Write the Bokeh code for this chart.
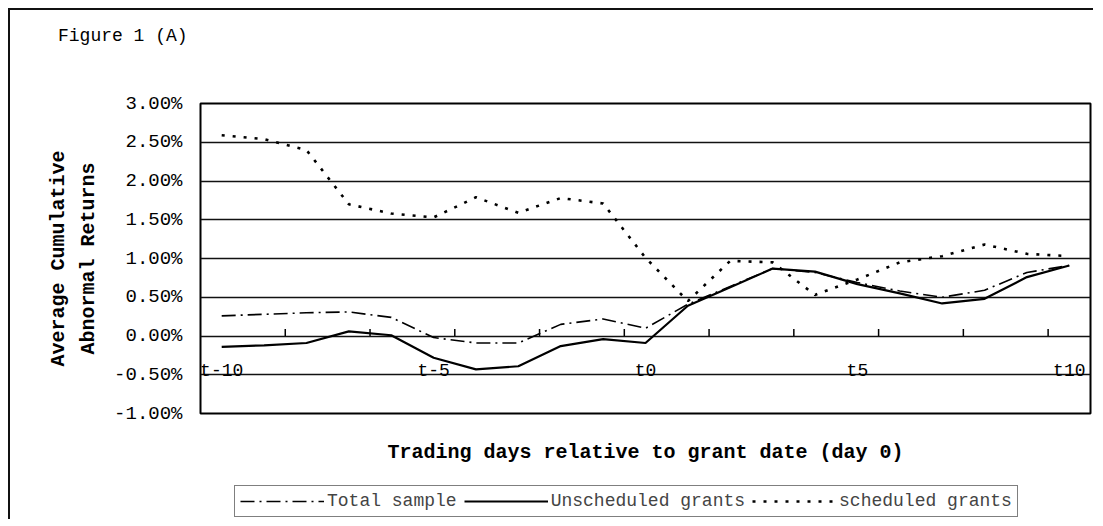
from bokeh.plotting import figure
from bokeh.layouts import column
from bokeh.models import (Range1d, FixedTicker, PrintfTickFormatter, Title, Div,
                          LinearAxis, Legend, LegendItem)
from bokeh.core.properties import value
from bokeh.embed import file_html
from bokeh.resources import INLINE

# ---------------- data ----------------
days = list(range(-10, 11))
total_sample = [0.26, 0.28, 0.30, 0.31, 0.24, -0.02, -0.09, -0.09, 0.15, 0.22, 0.10,
                0.41, 0.64, 0.87, 0.82, 0.69, 0.58, 0.50, 0.59, 0.82, 0.91]
unscheduled = [-0.14, -0.12, -0.09, 0.06, 0.01, -0.28, -0.43, -0.39, -0.13, -0.04, -0.09,
               0.39, 0.63, 0.87, 0.83, 0.67, 0.55, 0.42, 0.48, 0.76, 0.91]
scheduled = [2.59, 2.54, 2.40, 1.70, 1.58, 1.53, 1.79, 1.59, 1.78, 1.71, 1.01,
             0.45, 0.97, 0.95, 0.53, 0.73, 0.95, 1.03, 1.18, 1.06, 1.03]
x_label_days = [-10, -5, 0, 5, 10]
x_label_text = ["t-10", "t-5", "t0", "t5", "t10"]
y_ticks = [-1.0, -0.5, 0.0, 0.5, 1.0, 1.5, 2.0, 2.5, 3.0]
series_names = ["Total sample", "Unscheduled grants", "scheduled grants"]
series_values = [total_sample, unscheduled, scheduled]

MONO = "Liberation Mono"
STYLES = [dict(line_color="black", line_width=1.6, line_dash="14 5 2 5"),
          dict(line_color="black", line_width=2.2),
          dict(line_color="black", line_width=2.6, line_dash="3 8")]

# ---------------- heading ----------------
head = Div(text='<div style="padding:16px 0 0 48px">Figure 1 (A)</div>',
           width=1083, height=43, margin=0,
           styles={"font-family": "'Liberation Mono', monospace", "font-size": "18px",
                   "color": "black", "line-height": "normal"})

# ---------------- main chart ----------------
p = figure(width=1083, height=424, output_backend="svg", toolbar_location=None,
           x_range=Range1d(days[0] - 0.5, days[-1] + 0.5),
           y_range=Range1d(y_ticks[0], y_ticks[-1]),
           x_axis_type=None,
           min_border_left=190, min_border_right=3, min_border_top=50, min_border_bottom=64)
p.title.text = ""
p.background_fill_color = "white"
p.border_fill_color = "white"
p.outline_line_color = "black"
p.outline_line_width = 2

# y axis
p.yaxis.ticker = FixedTicker(ticks=y_ticks)
p.yaxis.formatter = PrintfTickFormatter(format="%.2f%%")
p.yaxis.major_label_text_font = MONO
p.yaxis.major_label_text_font_size = "19px"
p.yaxis.major_label_text_color = "black"
p.yaxis.axis_line_color = None
p.yaxis.major_tick_line_color = None
p.yaxis.minor_tick_line_color = None
p.yaxis.major_tick_out = 0
p.yaxis.major_tick_in = 0
p.yaxis.major_label_standoff = 18
p.yaxis.axis_label = "Abnormal Returns"
p.yaxis.axis_label_text_font = MONO
p.yaxis.axis_label_text_font_size = "20px"
p.yaxis.axis_label_text_font_style = "bold"
p.yaxis.axis_label_text_color = "black"
p.yaxis.axis_label_standoff = 11

p.add_layout(Title(text="Average Cumulative", align="center", standoff=10,
                   text_font=MONO, text_font_size="20px", text_font_style="bold",
                   text_color="black"), "left")

# x axis (title only; category labels are drawn inside the plot)
xaxis = LinearAxis(ticker=FixedTicker(ticks=[]), axis_line_color=None,
                   major_tick_line_color=None, minor_tick_line_color=None,
                   major_tick_out=0, major_tick_in=0, major_label_standoff=0,
                   axis_label="Trading days relative to grant date (day 0)",
                   axis_label_standoff=27, axis_label_text_font=MONO,
                   axis_label_text_font_size="20px", axis_label_text_font_style="bold",
                   axis_label_text_color="black")
p.add_layout(xaxis, "below")

p.ygrid.grid_line_color = "#111111"
p.ygrid.grid_line_width = 1.5

# series
for vals, st in zip(series_values, STYLES):
    p.line(days, vals, **st)

# small category tick marks on the zero line (every 2nd category boundary)
bounds = [d - 0.5 for d in days[2::2]]
p.segment(x0=bounds, y0=[0.0] * len(bounds), x1=bounds, y1=[0.09] * len(bounds),
          line_color="black", line_width=1.5)

# category labels
p.text(x=x_label_days, y=[-0.5] * len(x_label_days), text=x_label_text,
       text_font=value(MONO), text_font_size="18px", text_color="black",
       text_align="center", text_baseline="middle", y_offset=-4)

# ---------------- legend strip ----------------
q = figure(width=1083, height=42, output_backend="svg", toolbar_location=None,
           x_range=Range1d(0, 1), y_range=Range1d(100, 101),
           x_axis_type=None, y_axis_type=None, min_border=0)
q.title.text = ""
q.outline_line_color = None
q.grid.visible = False
leg_renderers = [q.line(days, vals, **st) for vals, st in zip(series_values, STYLES)]
legend = Legend(items=[LegendItem(label=n, renderers=[r])
                       for n, r in zip(series_names, leg_renderers)],
                orientation="horizontal", location=(34, 2),
                border_line_color="black", border_line_width=1.5,
                background_fill_color="white", background_fill_alpha=1.0,
                label_text_font=MONO, label_text_font_size="18px",
                glyph_width=84, glyph_height=20, label_height=20,
                label_standoff=3, spacing=7, padding=5, margin=0)
q.add_layout(legend, "center")

layout = column(head, p, q, spacing=0,
                styles={"margin-left": "8px", "margin-top": "8px",
                        "border-left": "2px solid #111", "border-top": "2px solid #111"})

open("out.html", "w").write(file_html(layout, INLINE))
